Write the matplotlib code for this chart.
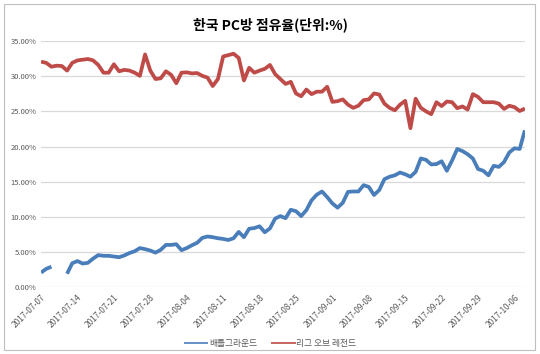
import numpy as np
import pandas as pd
import matplotlib
matplotlib.use("Agg")
import matplotlib.pyplot as plt
import matplotlib.dates as mdates
from matplotlib.patches import Rectangle

plt.rcParams['font.family'] = ['Noto Sans CJK KR', 'DejaVu Sans']

dates = pd.date_range('2017-07-07', '2017-10-08', freq='D')

# 배틀그라운드 (%)
pubg = [2.06, 2.6, 2.9, np.nan, np.nan, 1.9, 3.4, 3.7, 3.35, 3.45,
        4.05, 4.55, 4.45, 4.45, 4.35, 4.25, 4.5, 4.85, 5.1, 5.55,
        5.4, 5.2, 4.9, 5.3, 6.0, 6.0, 6.1, 5.25, 5.55, 5.95,
        6.3, 7.0, 7.2, 7.1, 6.95, 6.85, 6.7, 6.95, 7.85, 7.1,
        8.3, 8.4, 8.65, 7.8, 8.35, 9.75, 10.1, 9.8, 11.0, 10.8,
        10.1, 10.95, 12.35, 13.15, 13.6, 12.8, 11.9, 11.3, 12.0, 13.55,
        13.6, 13.6, 14.5, 14.25, 13.1, 13.8, 15.35, 15.7, 15.9, 16.3,
        16.05, 15.7, 16.4, 18.3, 18.1, 17.45, 17.5, 17.9, 16.55, 18.0,
        19.65, 19.35, 18.9, 18.3, 16.8, 16.55, 15.9, 17.25, 17.1, 17.8,
        19.15, 19.75, 19.65, 22.3]

# 리그 오브 레전드 (%)
lol = [32.07, 31.9, 31.35, 31.5, 31.45, 30.8, 31.9, 32.25, 32.35, 32.45,
       32.25, 31.6, 30.5, 30.5, 31.7, 30.7, 30.9, 30.8, 30.5, 30.05,
       33.1, 30.8, 29.6, 29.7, 30.7, 30.2, 29.0, 30.5, 30.55, 30.4,
       30.45, 30.05, 29.8, 28.6, 29.6, 32.8, 33.0, 33.2, 32.6, 29.4,
       31.2, 30.5, 30.8, 31.05, 31.6, 30.3, 29.6, 28.9, 29.2, 27.55,
       27.15, 28.1, 27.45, 27.8, 27.8, 28.5, 26.35, 26.45, 26.7, 25.95,
       25.5, 25.8, 26.6, 26.7, 27.55, 27.4, 26.1, 25.5, 25.15, 25.95,
       26.5, 22.6, 26.8, 25.5, 25.0, 24.6, 26.3, 25.75, 26.4, 26.3,
       25.45, 25.7, 25.25, 27.45, 27.05, 26.3, 26.3, 26.3, 26.1, 25.35,
       25.8, 25.6, 25.05, 25.4]

title = '한국 PC방 점유율(단위:%)'
labels = ['배틀그라운드', '리그 오브 레전드']
colors = ['#4A7EBB', '#BE4B48']

fig = plt.figure(figsize=(5.4, 3.54), dpi=100)
ax = fig.add_axes([0.076, 0.189, 0.896, 0.695])

fig.patches.append(Rectangle((0.007, 0.011), 0.984, 0.977, transform=fig.transFigure,
                             fill=False, edgecolor='#BFBFBF', linewidth=0.8))

ax.plot(dates, pubg, color=colors[0], linewidth=2.7, label=labels[0], solid_capstyle='butt')
ax.plot(dates, lol, color=colors[1], linewidth=2.7, label=labels[1], solid_capstyle='butt')

ax.set_ylim(0, 35)
ax.set_yticks(np.arange(0, 36, 5))
ax.yaxis.set_major_formatter(plt.FuncFormatter(lambda v, p: '%.2f%%' % v))
ax.set_xlim(dates[0], dates[-1])
ax.set_xticks(dates[::7])
ax.xaxis.set_major_formatter(mdates.DateFormatter('%Y-%m-%d'))
for t in ax.get_xticklabels():
    t.set_rotation(45)
    t.set_ha('right')
    t.set_rotation_mode('anchor')

ax.grid(axis='y', color='#D9D9D9', linewidth=0.9)
ax.set_axisbelow(True)
for s in ax.spines.values():
    s.set_visible(False)
ax.tick_params(axis='y', length=0, labelsize=5.5, colors='#595959', pad=3)
ax.tick_params(axis='x', length=0, labelsize=6, colors='#595959', pad=4)

fig.text(0.5, 0.93, title, ha='center', va='center', fontsize=10, fontweight='bold', color='#000000')

fig.legend(loc='center', bbox_to_anchor=(0.5, 0.03), ncol=2, frameon=False, fontsize=6.3,
           handlelength=2.8, columnspacing=1.6, handletextpad=0.1, labelcolor='#595959')
for line in fig.legends[0].get_lines():
    line.set_linewidth(1.2)

fig.savefig('out.png', dpi=100)
